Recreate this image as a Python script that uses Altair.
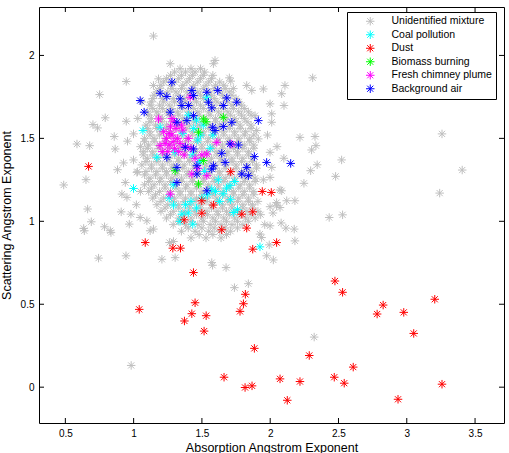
import altair as alt
import pandas as pd

# ---------------- data ----------------
categories = ["Unidentified mixture", "Coal pollution", "Dust",
              "Biomass burning", "Fresh chimney plume", "Background air"]
colors = ["#bfbfbf", "#00ffff", "#ff0000", "#00ff00", "#ff00ff", "#0000ff"]

# grey: scattered outliers
grey_out_x = [1.145, 1.268, 0.946, 0.751, 0.792, 0.946, 0.702, 0.736, 0.858, 0.955, 0.585, 0.678, 0.865, 1.182,
              0.488, 0.651, 0.882, 0.926, 1.024, 0.939, 0.663, 0.690, 0.634, 0.787, 0.829, 0.909, 0.980, 0.968,
              1.048, 1.121, 0.743, 0.944, 1.207, 1.304, 1.262, 0.951,
              2.432, 2.181, 2.115, 2.176, 1.999, 1.925, 1.974, 2.023, 1.572, 1.677, 1.840, 1.738, 2.121, 2.181,
              2.047, 1.999,
              0.982, 2.322, 1.937, 1.993, 0.639, 0.834, 1.578,
              2.311, 2.108, 2.084, 2.101, 3.258, 3.406, 3.241, 2.218, 2.328, 2.335, 2.303, 2.523, 2.344, 2.296,
              2.479, 2.247, 2.084, 2.530,
              1.999, 1.950, 1.828, 1.865, 1.701, 1.711, 1.596, 1.584, 2.011, 2.072, 1.999, 1.999, 1.913, 2.011,
              2.011, 1.901, 1.889, 2.047, 2.072,
              1.145, 0.999, 0.999, 1.028, 0.914, 1.097, 1.145, 1.292,
              2.05, 1.98, 2.10, 1.95, 2.02, 1.96, 2.08, 1.05, 1.03, 1.06, 1.02, 1.05]
grey_out_y = [2.117, 1.950, 1.843, 1.764, 1.624, 1.603, 1.583, 1.563, 1.511, 1.483, 1.466, 1.456, 1.436, 1.859,
              1.219, 1.251, 1.311, 1.352, 1.295, 1.234, 1.074, 0.997, 0.957, 0.967, 0.943, 1.057, 1.043, 0.983,
              1.023, 0.943, 0.778, 0.792, 0.771, 0.781, 0.872, 1.144,
              1.023, 0.882, 0.959, 0.953, 0.973, 0.923, 0.792, 0.767, 0.751, 0.721, 0.624, 0.600, 1.124, 1.124,
              1.094, 1.088,
              0.131, 0.302, 0.902, 0.858, 0.943, 0.932, 0.735,
              1.865, 1.819, 1.769, 1.698, 1.527, 1.309, 1.170, 1.506, 1.511, 1.456, 1.430, 1.370, 1.341, 1.305,
              1.271, 1.229, 1.184, 1.039,
              1.708, 1.798, 1.819, 1.789, 1.865, 1.845, 1.970, 1.950, 1.325, 1.189, 1.265, 1.416, 1.497, 1.597,
              1.648, 1.547, 1.637, 1.113, 1.083,
              1.819, 1.527, 1.370, 1.299, 1.164, 1.003, 0.953, 0.878,
              1.45, 1.52, 1.38, 1.25, 1.05, 0.98, 0.99, 1.45, 1.62, 1.72, 1.10, 1.18]

# grey: dense core, row by row (y level, x positions)
grey_core_rows = [
    (1.92, [1.34, 1.42, 1.49]),
    (1.90, [1.30, 1.38, 1.45, 1.52]),
    (1.88, [1.27, 1.35, 1.43, 1.51, 1.58]),
    (1.86, [1.24, 1.33, 1.41, 1.49, 1.57]),
    (1.84, [1.22, 1.30, 1.39, 1.47, 1.55, 1.63]),
    (1.82, [1.20, 1.27, 1.36, 1.44, 1.53, 1.60, 1.66]),
    (1.80, [1.19, 1.28, 1.35, 1.43, 1.51, 1.59, 1.67, 1.73]),
    (1.78, [1.17, 1.25, 1.31, 1.39, 1.47, 1.55, 1.63, 1.70]),
    (1.76, [1.15, 1.23, 1.33, 1.41, 1.49, 1.57, 1.65, 1.72]),
    (1.74, [1.14, 1.21, 1.29, 1.37, 1.45, 1.51, 1.59, 1.67, 1.75]),
    (1.72, [1.13, 1.22, 1.30, 1.38, 1.46, 1.54, 1.61, 1.69, 1.77]),
    (1.70, [1.12, 1.19, 1.26, 1.34, 1.42, 1.49, 1.57, 1.64, 1.72, 1.79]),
    (1.68, [1.14, 1.21, 1.28, 1.36, 1.44, 1.51, 1.59, 1.66, 1.73, 1.81]),
    (1.66, [1.10, 1.17, 1.24, 1.32, 1.40, 1.47, 1.55, 1.62, 1.69, 1.77, 1.84]),
    (1.64, [1.11, 1.18, 1.26, 1.33, 1.41, 1.48, 1.56, 1.64, 1.71, 1.79, 1.86]),
    (1.62, [1.13, 1.21, 1.29, 1.36, 1.44, 1.52, 1.60, 1.67, 1.74, 1.81]),
    (1.60, [1.12, 1.20, 1.28, 1.37, 1.45, 1.52, 1.60, 1.67, 1.75, 1.83]),
    (1.58, [1.09, 1.16, 1.24, 1.33, 1.41, 1.48, 1.56, 1.63, 1.71, 1.78, 1.86]),
    (1.56, [1.10, 1.17, 1.24, 1.31, 1.39, 1.47, 1.55, 1.63, 1.70, 1.78, 1.86]),
    (1.54, [1.12, 1.20, 1.27, 1.35, 1.43, 1.51, 1.59, 1.66, 1.74, 1.82]),
    (1.52, [1.12, 1.19, 1.27, 1.35, 1.43, 1.51, 1.58, 1.66, 1.74, 1.81, 1.88]),
    (1.50, [1.08, 1.15, 1.23, 1.31, 1.39, 1.47, 1.55, 1.62, 1.70, 1.77, 1.85]),
    (1.48, [1.08, 1.15, 1.23, 1.31, 1.38, 1.46, 1.54, 1.62, 1.69, 1.77, 1.85]),
    (1.46, [1.11, 1.19, 1.27, 1.34, 1.42, 1.50, 1.58, 1.65, 1.73, 1.81, 1.88]),
    (1.44, [1.10, 1.18, 1.26, 1.34, 1.42, 1.50, 1.58, 1.65, 1.73, 1.80, 1.88]),
    (1.42, [1.07, 1.14, 1.22, 1.30, 1.38, 1.46, 1.54, 1.61, 1.69, 1.76, 1.84]),
    (1.40, [1.07, 1.14, 1.22, 1.30, 1.37, 1.45, 1.53, 1.61, 1.68, 1.76, 1.84]),
    (1.38, [1.10, 1.18, 1.26, 1.33, 1.41, 1.49, 1.57, 1.64, 1.72, 1.80, 1.87]),
    (1.36, [1.09, 1.17, 1.25, 1.33, 1.41, 1.49, 1.56, 1.64, 1.72, 1.79, 1.87]),
    (1.34, [1.06, 1.13, 1.21, 1.29, 1.37, 1.45, 1.53, 1.60, 1.68, 1.75, 1.83, 1.90]),
    (1.32, [1.13, 1.21, 1.28, 1.36, 1.44, 1.52, 1.60, 1.67, 1.75, 1.83, 1.90]),
    (1.30, [1.09, 1.17, 1.24, 1.32, 1.40, 1.48, 1.56, 1.63, 1.71, 1.79, 1.86]),
    (1.28, [1.08, 1.16, 1.24, 1.31, 1.39, 1.47, 1.55, 1.63, 1.70, 1.78, 1.86]),
    (1.26, [1.12, 1.20, 1.28, 1.35, 1.43, 1.51, 1.59, 1.67, 1.74, 1.82, 1.89]),
    (1.24, [1.11, 1.19, 1.27, 1.35, 1.43, 1.51, 1.59, 1.66, 1.74, 1.81, 1.89]),
    (1.22, [1.08, 1.15, 1.23, 1.31, 1.39, 1.47, 1.55, 1.62, 1.70, 1.78, 1.85]),
    (1.20, [1.13, 1.23, 1.31, 1.38, 1.46, 1.54, 1.62, 1.70, 1.77, 1.85]),
    (1.18, [1.11, 1.19, 1.27, 1.34, 1.42, 1.50, 1.58, 1.66, 1.73, 1.81, 1.88]),
    (1.16, [1.16, 1.26, 1.34, 1.42, 1.50, 1.58, 1.65, 1.73, 1.80, 1.88]),
    (1.14, [1.14, 1.22, 1.30, 1.38, 1.46, 1.54, 1.61, 1.69, 1.77, 1.84]),
    (1.12, [1.20, 1.29, 1.37, 1.45, 1.53, 1.61, 1.69, 1.76, 1.84, 1.91]),
    (1.10, [1.17, 1.25, 1.33, 1.41, 1.49, 1.57, 1.65, 1.72, 1.80, 1.87]),
    (1.08, [1.23, 1.33, 1.41, 1.49, 1.57, 1.65, 1.72, 1.80, 1.87]),
    (1.06, [1.20, 1.29, 1.37, 1.45, 1.53, 1.61, 1.68, 1.76, 1.83, 1.91]),
    (1.04, [1.27, 1.37, 1.46, 1.54, 1.62, 1.70, 1.78, 1.86, 1.93]),
    (1.02, [1.24, 1.33, 1.42, 1.50, 1.58, 1.66, 1.74, 1.82, 1.89]),
    (1.00, [1.33, 1.42, 1.51, 1.60, 1.68, 1.76, 1.84]),
    (0.98, [1.29, 1.38, 1.47, 1.56, 1.64, 1.72, 1.80]),
    (0.96, [1.40, 1.50, 1.59, 1.67, 1.76]),
    (0.94, [1.35, 1.45, 1.55, 1.63, 1.71]),
    (0.92, [1.48, 1.58, 1.68]),
    (0.90, [1.42, 1.53, 1.64]),
]

coal_x = [1.068, 0.999, 1.292, 1.353, 1.433, 1.730, 1.925, 1.46, 1.44, 1.49, 1.51, 1.47, 1.194, 1.170, 1.572,
          1.655, 1.706, 1.536, 1.304, 1.38, 1.42, 1.46, 1.50, 1.54, 1.60, 1.63, 1.68, 1.74, 1.34, 1.40, 1.26,
          1.48, 1.52, 1.43, 1.56, 1.40, 1.58, 1.29, 1.62, 1.71, 1.76, 1.36]
coal_y = [1.547, 1.198, 1.098, 1.043, 0.983, 1.053, 0.846, 1.61, 1.56, 1.52, 1.58, 1.49, 1.567, 1.386, 1.194,
          1.166, 1.215, 1.748, 1.416, 1.10, 1.12, 1.08, 1.14, 1.16, 1.18, 1.12, 1.20, 1.24, 1.00, 1.05, 1.14,
          1.36, 1.30, 1.40, 1.44, 1.64, 1.52, 1.22, 1.25, 1.13, 1.07, 1.53]

dust_x = [1.085, 1.287, 1.343, 1.872, 2.047, 1.438, 2.474, 2.530, 3.205, 2.827, 2.783, 2.978, 3.051, 1.041,
          1.450, 1.426, 1.531, 1.372, 1.516, 1.818, 1.804, 1.779, 1.884, 2.286, 2.608, 1.662, 2.072, 2.218,
          2.469, 2.542, 1.816, 1.867, 2.125, 2.936, 3.258, 0.670, 1.711, 1.942, 2.008, 1.499, 1.584, 1.499,
          1.792, 1.872, 1.370, 1.645, 1.828]
dust_y = [0.872, 0.838, 0.838, 0.832, 0.872, 0.691, 0.640, 0.572, 0.530, 0.495, 0.441, 0.451, 0.324, 0.469,
          0.509, 0.443, 0.431, 0.399, 0.338, 0.560, 0.503, 0.457, 0.234, 0.191, 0.121, 0.060, 0.050, 0.034,
          0.060, 0.024, -0.002, 0.008, -0.079, -0.073, 0.018, 1.331, 1.299, 1.180, 1.174, 1.124, 1.098, 1.049,
          1.043, 1.057, 1.009, 0.949, 0.959]

biomass_x = [1.511, 1.657, 1.475, 1.511, 1.475, 1.304, 1.53]
biomass_y = [1.617, 1.627, 1.537, 1.366, 1.225, 1.305, 1.60]

plume_x = [1.182, 1.268, 1.609, 1.536, 1.426, 1.194, 1.719, 1.536, 1.414,
           1.24, 1.28, 1.32, 1.26, 1.30, 1.34, 1.22, 1.27, 1.31, 1.36, 1.25, 1.29, 1.33, 1.38, 1.40, 1.23,
           1.35, 1.30, 1.26, 1.37, 1.42, 1.45, 1.50, 1.47, 1.28, 1.21]
plume_y = [1.617, 1.164, 1.476, 1.275, 1.285, 1.456, 1.466, 1.406, 1.748,
           1.50, 1.52, 1.50, 1.46, 1.44, 1.47, 1.54, 1.57, 1.56, 1.55, 1.42, 1.48, 1.42, 1.45, 1.50, 1.47,
           1.58, 1.60, 1.53, 1.40, 1.44, 1.38, 1.40, 1.32, 1.62, 1.42]

bg_x = [1.280, 1.048, 1.077, 1.194, 1.243, 1.341, 1.426, 1.438, 1.536, 1.616, 1.548, 1.572, 1.682, 1.755,
        1.657, 1.353, 1.401, 1.438, 1.268, 1.317, 1.390, 1.913, 1.719, 1.657, 1.579, 1.596, 1.377, 1.438,
        1.706, 1.767, 1.645, 1.243, 1.670, 1.317, 1.463, 1.584, 1.572, 1.884, 1.974, 2.150, 1.828, 1.792,
        1.463, 1.317, 1.536, 1.840]
bg_y = [1.839, 1.728, 1.658, 1.772, 1.752, 1.738, 1.789, 1.758, 1.778, 1.789, 1.718, 1.684, 1.744, 1.718,
        1.698, 1.698, 1.698, 1.637, 1.658, 1.597, 1.607, 1.607, 1.597, 1.571, 1.567, 1.547, 1.446, 1.436,
        1.466, 1.460, 1.410, 1.386, 1.355, 1.325, 1.335, 1.335, 1.315, 1.390, 1.355, 1.349, 1.325, 1.285,
        1.285, 1.234, 1.184, 1.275]

x_ticks = [0.5, 1, 1.5, 2, 2.5, 3, 3.5]
y_ticks = [0, 0.5, 1, 1.5, 2]
x_domain = [0.307, 3.712]
y_domain = [-0.216, 2.292]

# ---------------- build table ----------------
rows = []
gx = list(grey_out_x)
gy = list(grey_out_y)
for yv, xs_row in grey_core_rows:
    for xv in xs_row:
        gx.append(xv)
        gy.append(yv)
groups = [(gx, gy), (coal_x, coal_y), (dust_x, dust_y), (biomass_x, biomass_y),
          (plume_x, plume_y), (bg_x, bg_y)]
for cat, (gxs, gys) in zip(categories, groups):
    for xv, yv in zip(gxs, gys):
        rows.append({"x": xv, "y": yv, "group": cat})
df = pd.DataFrame(rows)
df["order"] = range(len(df))

FONT = "Liberation Sans"
W, H = 465, 416
ASTER = "M-1,0L1,0M0,-1L0,1M-0.72,-0.72L0.72,0.72M-0.72,0.72L0.72,-0.72"

x_axis = alt.Axis(values=x_ticks, format=".1~f", ticks=False, domain=False, grid=False,
                  labelPadding=5, labelFontSize=10, labelColor="#000", labelFont=FONT,
                  title="Absorption Angstrom Exponent", titleFontSize=12.5, titleFont=FONT,
                  titleFontWeight="normal", titleColor="#000", titlePadding=3)
y_axis = alt.Axis(values=y_ticks, format=".1~f", ticks=False, domain=False, grid=False,
                  labelPadding=5, labelFontSize=10, labelColor="#000", labelFont=FONT,
                  title="Scattering Angstrom Exponent", titleFontSize=12.5, titleFont=FONT,
                  titleFontWeight="normal", titleColor="#000", titlePadding=7)

xsc = alt.Scale(domain=x_domain, nice=False, zero=False)
ysc = alt.Scale(domain=y_domain, nice=False, zero=False)

points = alt.Chart(df).mark_point(shape=ASTER, filled=False, size=72, strokeWidth=1, opacity=1).encode(
    x=alt.X("x:Q", scale=xsc, axis=x_axis),
    y=alt.Y("y:Q", scale=ysc, axis=y_axis),
    color=alt.Color("group:N", scale=alt.Scale(domain=categories, range=colors),
                    legend=alt.Legend(title=None, orient="none", legendX=308, legendY=5,
                                      symbolType=ASTER, symbolSize=72, symbolStrokeWidth=1,
                                      symbolOffset=14, labelOffset=16, labelFontSize=10.5,
                                      labelFont=FONT, labelColor="#000", labelLimit=300,
                                      rowPadding=0.5, padding=4, strokeColor="#000",
                                      fillColor="#fff", cornerRadius=0)),
    order=alt.Order("order:Q"),
)

xt = pd.DataFrame({"x": x_ticks})
yt = pd.DataFrame({"y": y_ticks})
tick_style = dict(color="#000", strokeWidth=1)
bottom_ticks = alt.Chart(xt).mark_rule(**tick_style).encode(
    x=alt.X("x:Q", scale=xsc, axis=x_axis), y=alt.value(H), y2=alt.value(H - 5))
top_ticks = alt.Chart(xt).mark_rule(**tick_style).encode(
    x=alt.X("x:Q", scale=xsc, axis=x_axis), y=alt.value(0), y2=alt.value(5))
left_ticks = alt.Chart(yt).mark_rule(**tick_style).encode(
    y=alt.Y("y:Q", scale=ysc, axis=y_axis), x=alt.value(0), x2=alt.value(5))
right_ticks = alt.Chart(yt).mark_rule(**tick_style).encode(
    y=alt.Y("y:Q", scale=ysc, axis=y_axis), x=alt.value(W), x2=alt.value(W - 5))

chart = alt.layer(points, bottom_ticks, top_ticks, left_ticks, right_ticks).properties(
    width=W, height=H,
    autosize=alt.AutoSizeParams(type="none"),
    padding={"left": 39, "top": 7, "right": 5, "bottom": 30},
    background="#ffffff",
).configure_view(stroke="#000", strokeWidth=1)

chart.save("out.html", embed_options={"renderer": "svg", "actions": False})
